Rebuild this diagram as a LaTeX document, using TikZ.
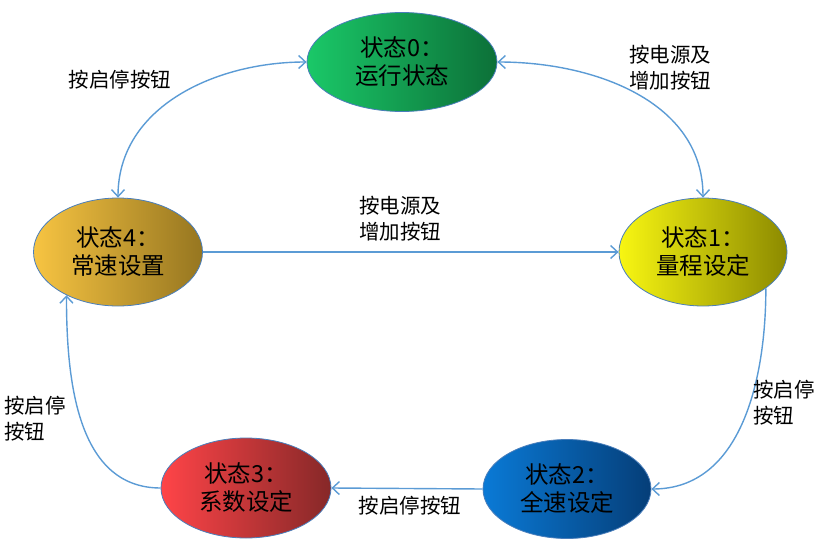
\documentclass[tikz,border=0pt]{standalone}
\usepackage{fontspec}
\newfontfamily\cjk{Noto Sans CJK SC}
\usetikzlibrary{arrows.meta,shapes.geometric}
\definecolor{edgeblue}{HTML}{5B9BD5}
\definecolor{rimblue}{HTML}{4A7EBB}
\tikzset{
  state/.style = {ellipse, draw=rimblue, line width=0.8pt, align=center,
                  inner sep=0pt, text=black,
                  font=\cjk\fontsize{23.5}{28}\selectfont},
  lab/.style   = {align=center, inner sep=0pt,
                  font=\cjk\fontsize{20.5}{26}\selectfont},
  arr/.style   = {-{Straight Barb[length=7pt,width=13pt]}, draw=edgeblue, line width=1.4pt},
  darr/.style  = {{Straight Barb[length=7pt,width=13pt]}-{Straight Barb[length=7pt,width=13pt]},
                  draw=edgeblue, line width=1.4pt},
}
\begin{document}
\begin{tikzpicture}[x=1pt,y=-1pt]
  \useasboundingbox (0,0) rectangle (820,546);
  % states
  \node[state, minimum width=190pt, minimum height=99pt,
        left color={rgb,255:red,26;green,200;blue,104}, right color={rgb,255:red,12;green,112;blue,56}]
        (s0) at (402,62) {状态0：\\运行状态};
  \node[state, minimum width=169pt, minimum height=108pt,
        left color={rgb,255:red,247;green,196;blue,66}, right color={rgb,255:red,150;green,118;blue,32}]
        (s4) at (118,252) {状态4：\\常速设置};
  \node[state, minimum width=168pt, minimum height=108pt,
        left color={rgb,255:red,248;green,246;blue,18}, right color={rgb,255:red,140;green,138;blue,0}]
        (s1) at (703,252) {状态1：\\量程设定};
  \node[state, minimum width=170pt, minimum height=100pt,
        left color={rgb,255:red,255;green,68;blue,72}, right color={rgb,255:red,134;green,40;blue,40}]
        (s3) at (246,488) {状态3：\\系数设定};
  \node[state, minimum width=168pt, minimum height=99pt,
        left color={rgb,255:red,10;green,122;blue,214}, right color={rgb,255:red,5;green,62;blue,120}]
        (s2) at (567,489) {状态2：\\全速设定};
  % transitions
  \draw[darr] (s0.west) to[out=180,in=90] (s4.north);
  \draw[darr] (s0.east) to[out=0,in=90] (s1.north);
  \draw[arr] (s4.east) -- (s1.west);
  \draw[arr] (s1.-30) to[out=-90,in=0] (s2.east);
  \draw[arr] (s2.west) -- (s3.east);
  \draw[arr] (s3.west) to[out=180,in=-90] (s4.-140);
  % labels
  \node[lab] (l04) at (120,80) {按启停按钮};
  \node[lab] (l01) at (670,68) {按电源及\\增加按钮};
  \node[lab] (l41) at (400,219) {按电源及\\增加按钮};
  \node[lab, align=left] (l12) at (784,403) {按启停\\按钮};
  \node[lab, align=left] (l34) at (35,419) {按启停\\按钮};
  \node[lab] (l23) at (410,506) {按启停按钮};
\end{tikzpicture}
\end{document}
